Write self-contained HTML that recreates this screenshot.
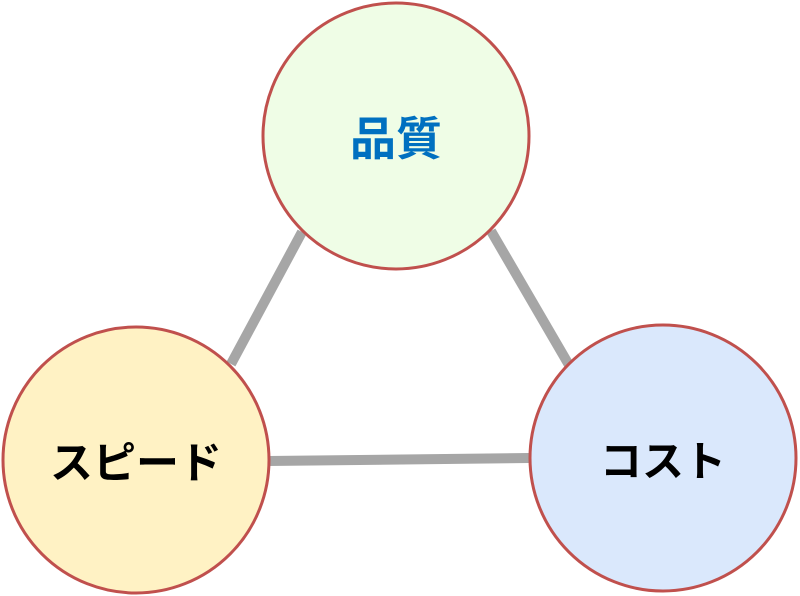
<!DOCTYPE html>
<html><head><meta charset="utf-8"><style>html,body{margin:0;padding:0;background:#fff;width:800px;height:596px;overflow:hidden}</style></head>
<body>
<svg width="800" height="596" xmlns="http://www.w3.org/2000/svg">
<g stroke="#a6a6a6" stroke-width="10" stroke-linecap="butt">
<line x1="302" y1="232" x2="231" y2="364"/>
<line x1="491" y1="231" x2="569" y2="365"/>
<line x1="268" y1="461" x2="529" y2="458"/>
</g>
<circle cx="396" cy="136" r="133" fill="#effde6" stroke="#c0504d" stroke-width="3"/>
<circle cx="136" cy="460" r="133" fill="#fff2c4" stroke="#c0504d" stroke-width="3"/>
<circle cx="663" cy="458" r="133" fill="#dae8fc" stroke="#c0504d" stroke-width="3"/>
<g font-family="'Liberation Sans','Noto Sans CJK JP',sans-serif" font-weight="bold" text-anchor="middle">
<text x="396" y="155" font-size="46" fill="#0070c0">品質</text>
<text x="136" y="478" font-size="43" fill="#000">スピード</text>
<text x="663" y="476" font-size="42" fill="#000">コスト</text>
</g>
</svg>
</body></html>
